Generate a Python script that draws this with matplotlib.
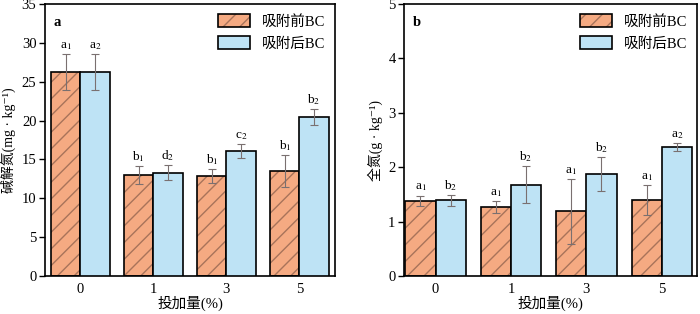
import numpy as np
import matplotlib
matplotlib.use("Agg")
import matplotlib.pyplot as plt
from matplotlib.patches import Patch

plt.rcParams["font.family"] = ["Liberation Serif", "Noto Sans CJK SC", "DejaVu Sans"]
plt.rcParams["mathtext.fontset"] = "stix"
plt.rcParams["font.size"] = 10

doses = ["0", "1", "3", "5"]
series = ["吸附前BC", "吸附后BC"]

# alkali-hydrolysable N (mg/kg)
an_before = [26.3, 13.0, 12.9, 13.5]
an_before_err = [2.3, 1.2, 0.9, 2.1]
an_after = [26.3, 13.3, 16.1, 20.5]
an_after_err = [2.3, 1.0, 0.85, 1.0]
an_before_lab = ["a$_1$", "b$_1$", "b$_1$", "b$_1$"]
an_after_lab = ["a$_2$", "d$_2$", "c$_2$", "b$_2$"]

# total N (g/kg)
tn_before = [1.38, 1.27, 1.19, 1.40]
tn_before_err = [0.10, 0.11, 0.60, 0.28]
tn_after = [1.39, 1.68, 1.87, 2.37]
tn_after_err = [0.10, 0.34, 0.31, 0.08]
tn_before_lab = ["a$_1$", "a$_1$", "a$_1$", "a$_1$"]
tn_after_lab = ["b$_2$", "b$_2$", "b$_2$", "a$_2$"]

orange = "#F5AA82"
blue = "#BEE3F5"
hatch_col = "#A8735A"
err_col = "#7a7070"
w = 0.4

fig = plt.figure(figsize=(7, 3.14), dpi=100)
ax1 = fig.add_axes([0.064, 0.121, 0.415, 0.866])
ax2 = fig.add_axes([0.577, 0.121, 0.419, 0.866])


def panel(ax, before, berr, after, aerr, blab, alab, ymax, ystep, ylabel, letter, xlim):
    x = np.arange(len(doses))
    # hatched fill, then black outline on top
    ax.bar(x - w / 2, before, w, color=orange, edgecolor=hatch_col, hatch="//", linewidth=0, zorder=2)
    ax.bar(x - w / 2, before, w, fill=False, edgecolor="black", linewidth=1.2, zorder=3)
    ax.bar(x + w / 2, after, w, color=blue, edgecolor="black", linewidth=1.2, zorder=3)
    ax.errorbar(x - w / 2, before, yerr=berr, fmt="none", ecolor=err_col, elinewidth=0.8, capsize=3, capthick=0.8, zorder=4)
    ax.errorbar(x + w / 2, after, yerr=aerr, fmt="none", ecolor=err_col, elinewidth=0.8, capsize=3, capthick=0.8, zorder=4)
    for xi, v, e, t in zip(x - w / 2, before, berr, blab):
        ax.annotate(t, (xi, v + e), xytext=(0, 1.5), textcoords="offset points", ha="center", va="bottom", fontsize=9.5)
    for xi, v, e, t in zip(x + w / 2, after, aerr, alab):
        ax.annotate(t, (xi, v + e), xytext=(0, 1.5), textcoords="offset points", ha="center", va="bottom", fontsize=9.5)

    ax.set_xlim(*xlim)
    ax.set_ylim(0, ymax)
    ax.set_yticks(np.arange(0, ymax + ystep / 2, ystep))
    ax.set_xticks(x)
    ax.set_xticklabels(doses)
    ax.tick_params(axis="x", length=0, pad=5, labelsize=10.5)
    ax.tick_params(axis="y", direction="out", length=4, width=1, labelsize=10.5, pad=2)
    for s in ax.spines.values():
        s.set_linewidth(1.2)
    ax.set_xlabel("投加量(%)", fontsize=10.5, labelpad=0)
    ax.set_ylabel(ylabel, fontsize=10, labelpad=4)
    ax.text(0.03, 0.955, letter, transform=ax.transAxes, fontweight="bold", fontsize=10.5, va="top", ha="left")

    h1 = (Patch(facecolor=orange, edgecolor=hatch_col, hatch="//", linewidth=0),
          Patch(fill=False, edgecolor="black", linewidth=1.2))
    h2 = Patch(facecolor=blue, edgecolor="black", linewidth=1.2)
    ax.legend([h1, h2], series, loc="upper right", frameon=False, fontsize=10.5,
              handlelength=2.2, handleheight=1.0, labelspacing=0.5, handletextpad=0.8,
              borderaxespad=0.3)


panel(ax1, an_before, an_before_err, an_after, an_after_err, an_before_lab, an_after_lab,
      35, 5, "碱解氮(mg · kg⁻¹)", "a", (-0.486, 3.49))
panel(ax2, tn_before, tn_before_err, tn_after, tn_after_err, tn_before_lab, tn_after_lab,
      5, 1, "全氮(g · kg⁻¹)", "b", (-0.42, 3.47))

fig.savefig("out.png", dpi=100)
